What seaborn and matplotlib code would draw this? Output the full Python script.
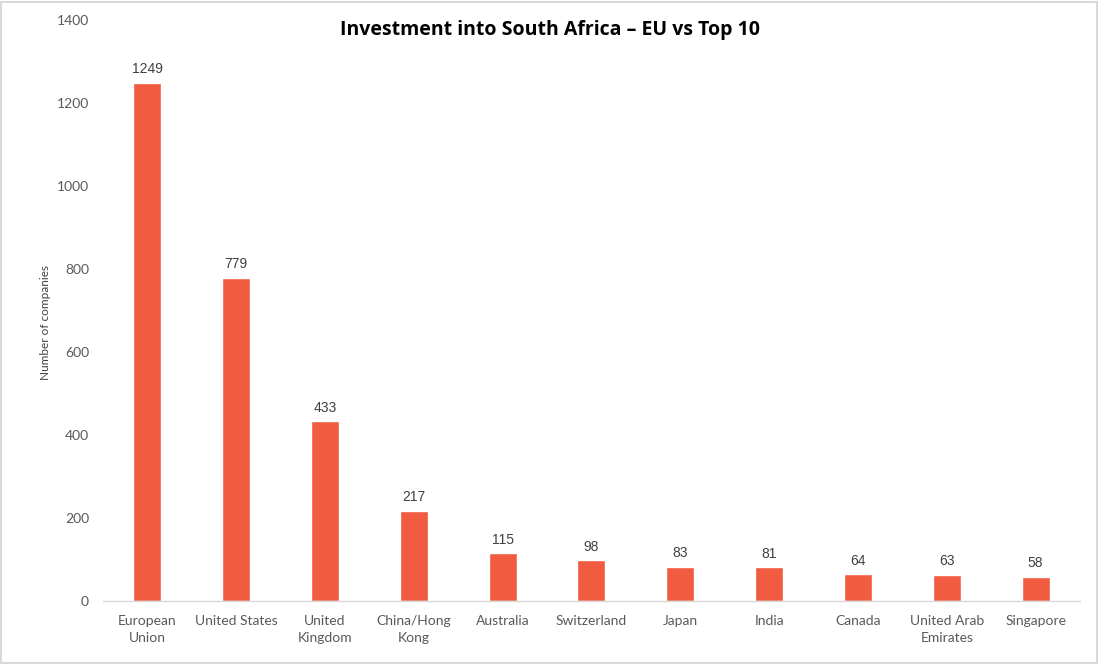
import matplotlib
matplotlib.use("Agg")
import matplotlib.pyplot as plt
import seaborn as sns
import pandas as pd

# Данные с графика
countries = ["European\nUnion", "United States", "United\nKingdom", "China/Hong\nKong",
             "Australia", "Switzerland", "Japan", "India", "Canada",
             "United Arab\nEmirates", "Singapore"]
companies = [1249, 779, 433, 217, 115, 98, 83, 81, 64, 63, 58]

df = pd.DataFrame({"country": countries, "companies": companies})

sns.set_style("white")
plt.rcParams["font.family"] = ["Lato", "DejaVu Sans"]

fig = plt.figure(figsize=(10.99, 6.64), dpi=100)
ax = fig.add_axes([0.0937, 0.0949, 0.889, 0.875])

sns.barplot(data=df, x="country", y="companies", color="#F15B40",
            width=0.315, saturation=1, ax=ax)

# подписи над столбцами
for i, v in enumerate(companies):
    ax.text(i, v + 16, str(v), ha="center", va="bottom", fontsize=10,
            color="#404040", family="Liberation Sans")

ax.set_ylim(0, 1400)
ax.set_yticks(range(0, 1401, 200))
ax.set_xlim(-0.5, len(countries) - 0.5)
ax.set_xlabel("")
ax.set_ylabel("Number of companies", fontsize=8.5, color="#404040")
ax.yaxis.set_label_coords(-0.053, 0.48)
ax.tick_params(axis="both", length=0, labelsize=10, labelcolor="#595959", pad=10)
for lbl in ax.get_xticklabels():
    lbl.set_linespacing(1.55)

for s in ["top", "right", "left"]:
    ax.spines[s].set_visible(False)
ax.spines["bottom"].set_color("#D9D9D9")
ax.spines["bottom"].set_linewidth(1)

fig.text(0.5, 0.955, "Investment into South Africa \u2013 EU vs Top 10", ha="center",
         va="center", fontsize=14, fontweight="bold", color="black",
         family=["Open Sans", "DejaVu Sans"])

# рамка вокруг рисунка
fig.patches.append(plt.Rectangle((0.001, 0.002), 0.997, 0.995, transform=fig.transFigure,
                                 fill=False, edgecolor="#D9D9D9", linewidth=1.5))

fig.savefig("out.png", dpi=100)
